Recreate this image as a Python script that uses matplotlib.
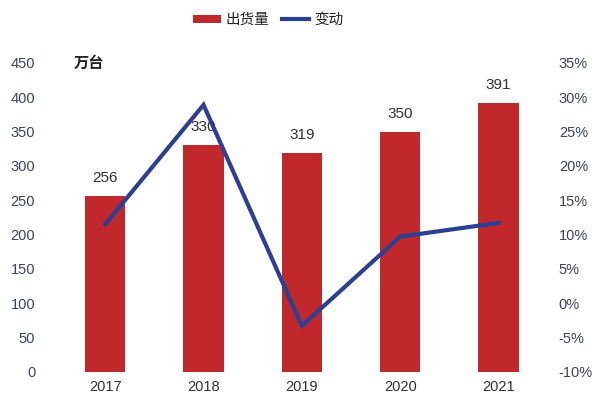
import numpy as np
import matplotlib
matplotlib.use("Agg")
import matplotlib.pyplot as plt
from matplotlib.lines import Line2D
from matplotlib.patches import Patch

plt.rcParams['font.family'] = ['Liberation Sans', 'Noto Sans CJK SC', 'DejaVu Sans']

years = ["2017", "2018", "2019", "2020", "2021"]
shipments = [256, 330, 319, 350, 391]          # 万台
change_pct = [11.5, 28.9, -3.3, 9.7, 11.7]       # %

BAR_RED = "#c0282c"
LINE_BLUE = "#2b3f94"
TEXT = "#3b4560"
CJK = ['Noto Sans CJK SC', 'DejaVu Sans']

fig = plt.figure(figsize=(5.96, 3.96), dpi=100)
ax = fig.add_axes([0.094, 0.061, 0.825, 0.780])
ax2 = ax.twinx()

x = np.arange(len(years))
ax.bar(x, shipments, width=0.41, color=BAR_RED, zorder=1)
for xi, v in zip(x, shipments):
    ax.text(xi, v + 16, str(v), ha="center", va="bottom", fontsize=11, color="#333333")

ax2.plot(x, change_pct, color=LINE_BLUE, lw=3, solid_joinstyle="miter", zorder=3)

ax.set_xlim(-0.5, len(years) - 0.5)
ax.set_ylim(0, 450)
ax.set_yticks(np.arange(0, 451, 50))
ax2.set_ylim(-10, 35)
ax2.set_yticks(np.arange(-10, 36, 5))
ax2.set_yticklabels([f"{t}%" for t in range(-10, 36, 5)])
ax.set_xticks(x)
ax.set_xticklabels(years)

for a in (ax, ax2):
    for s in a.spines.values():
        s.set_visible(False)
    a.tick_params(length=0, labelsize=10.5, labelcolor=TEXT)
ax.tick_params(axis="y", pad=15)
ax2.tick_params(axis="y", pad=8)
ax.tick_params(axis="x", pad=6, labelcolor="#333333")

# keep line above bars
ax.set_zorder(ax2.get_zorder() - 1)
ax.patch.set_visible(False)

ax.text(0.035, 450, "万台", ha="left", va="center", fontsize=11, fontweight="bold",
        color="#222222", family=CJK, transform=ax.get_yaxis_transform())

handles = [Patch(facecolor=BAR_RED, edgecolor="none"),
           Line2D([0], [0], color=LINE_BLUE, lw=3)]
fig.legend(handles, ["出货量", "变动"], loc="center", bbox_to_anchor=(0.45, 0.95),
           ncol=2, frameon=False, prop={'family': CJK, 'size': 10.5},
           handlelength=1.9, handleheight=0.45,
           handletextpad=0.3, columnspacing=0.85, labelcolor="#222222")

fig.savefig("out.png", dpi=100)
